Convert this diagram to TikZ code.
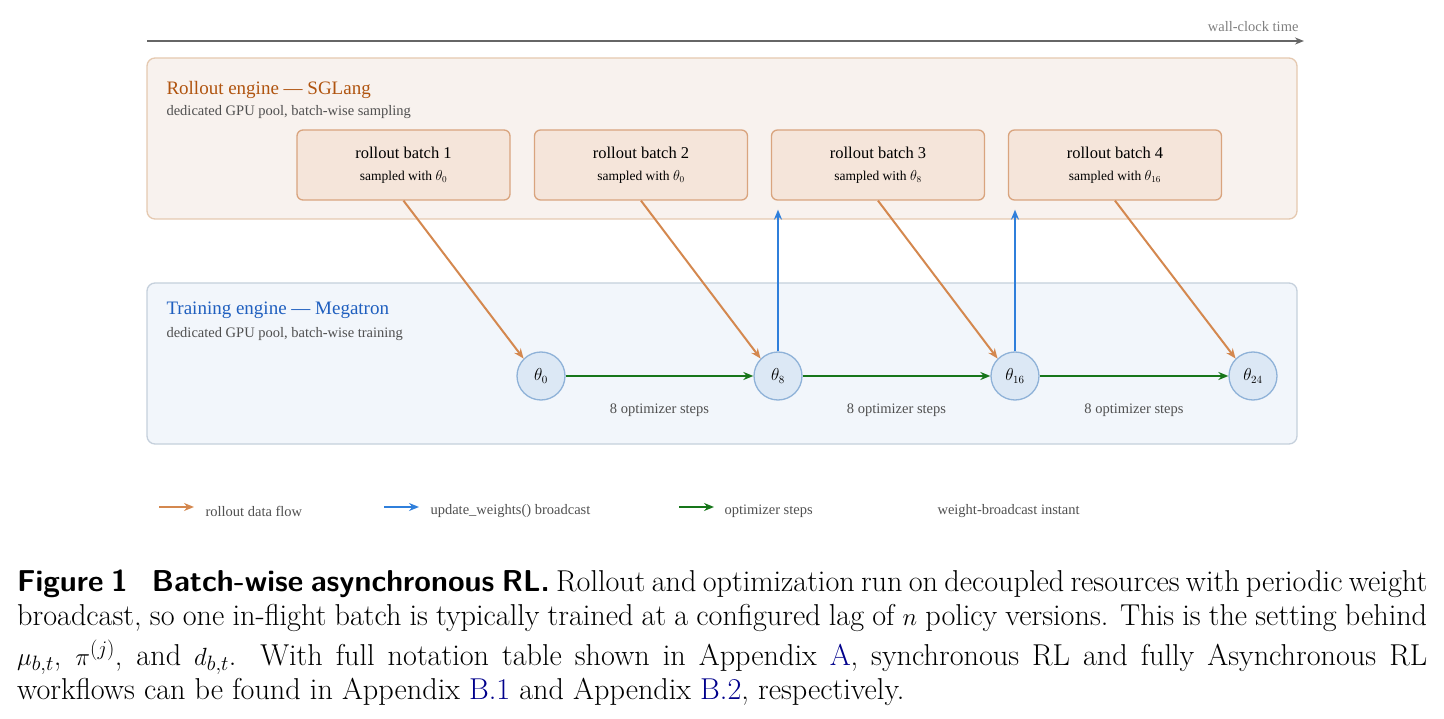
\documentclass[tikz,border=0pt]{standalone}
\usepackage{fontspec}
\setmainfont{Latin Modern Roman}
\newfontfamily\diag{Liberation Serif}
\usetikzlibrary{arrows.meta}
\definecolor{rfill}{HTML}{F8F2EE}\definecolor{rdraw}{HTML}{E5C9B0}
\definecolor{bfill}{HTML}{F5E5DA}\definecolor{bdraw}{HTML}{D9A47E}
\definecolor{tfill}{HTML}{F2F6FB}\definecolor{tdraw}{HTML}{C5D0DC}
\definecolor{cfill}{HTML}{DCE8F5}\definecolor{cdraw}{HTML}{8FB2D8}
\definecolor{orr}{HTML}{D4884F}\definecolor{blu}{HTML}{2F7FDB}\definecolor{grn}{HTML}{17761A}
\definecolor{rtitle}{HTML}{B0540F}\definecolor{ttitle}{HTML}{1F5FBF}\definecolor{gtxt}{HTML}{505050}
\definecolor{lnk}{HTML}{00008B}
\tikzset{
 panel/.style={rounded corners=8pt,line width=1.3pt},
 batch/.style={rounded corners=6pt,line width=1.3pt,fill=bfill,draw=bdraw,minimum width=213pt,minimum height=70pt,align=center,font=\diag\fontsize{16.5}{22}\selectfont},
 th/.style={circle,fill=cfill,draw=cdraw,line width=1.3pt,minimum size=48pt,inner sep=0pt,font=\fontsize{16}{18}\selectfont},
 arr/.style={line width=2pt,-{Stealth[length=10pt,width=8pt]}},
 lbl/.style={font=\diag\fontsize{14.5}{17}\selectfont,text=gtxt},
}
\begin{document}
\begin{tikzpicture}[x=1pt,y=-1pt]
\useasboundingbox (0,0) rectangle (1444,719);
\coordinate (t0) at (147,41); \coordinate (t1) at (1304,41);
\draw[gray!80!black,line width=1.5pt,-{Stealth[length=9pt,width=7pt]}] (t0) -- (t1);
\node[lbl,anchor=south east,text=gray] (wct) at (1302,35) {wall-clock time};
\draw[panel,fill=rfill,draw=rdraw] (147,58) rectangle (1297,219);
\node[anchor=base west,font=\diag\fontsize{19}{20}\selectfont,text=rtitle] (rt) at (163,95) {Rollout engine — SGLang};
\node[anchor=base west,lbl] (rs) at (163,116) {dedicated GPU pool, batch-wise sampling};
\node[batch] (b1) at (403.5,165) {rollout batch 1\\{\fontsize{13.5}{15}\selectfont sampled with $\theta_0$}};
\node[batch] (b2) at (641,165) {rollout batch 2\\{\fontsize{13.5}{15}\selectfont sampled with $\theta_0$}};
\node[batch] (b3) at (878,165) {rollout batch 3\\{\fontsize{13.5}{15}\selectfont sampled with $\theta_8$}};
\node[batch] (b4) at (1115,165) {rollout batch 4\\{\fontsize{13.5}{15}\selectfont sampled with $\theta_{16}$}};
\draw[panel,fill=tfill,draw=tdraw] (147,283) rectangle (1297,444);
\node[anchor=base west,font=\diag\fontsize{19}{20}\selectfont,text=ttitle] (tt) at (163,315) {Training engine — Megatron};
\node[anchor=base west,lbl] (ts) at (163,338) {dedicated GPU pool, batch-wise training};
\node[th] (c0) at (541,376) {$\theta_0$};
\node[th] (c8) at (778,376) {$\theta_8$};
\node[th] (c16) at (1015,376) {$\theta_{16}$};
\node[th] (c24) at (1253,376) {$\theta_{24}$};
\draw[arr,orr] (b1.south) -- (c0.135);
\draw[arr,orr] (b2.south) -- (c8.135);
\draw[arr,orr] (b3.south) -- (c16.135);
\draw[arr,orr] (b4.south) -- (c24.135);
\draw[arr,blu] (c8.north) -- ([yshift=-9pt]b3.south -| c8);
\draw[arr,blu] (c16.north) -- ([yshift=-9pt]b4.south -| c16);
\draw[arr,grn] (c0) -- (c8) node[lbl,midway,below=24pt] (s1) {8 optimizer steps};
\draw[arr,grn] (c8) -- (c16) node[lbl,midway,below=24pt] (s2) {8 optimizer steps};
\draw[arr,grn] (c16) -- (c24) node[lbl,midway,below=24pt] (s3) {8 optimizer steps};
\coordinate (l1a) at (159,507); \coordinate (l1b) at (194,507);
\draw[arr,orr] (l1a) -- (l1b); \node[lbl,anchor=west] (lt1) at (202,511) {rollout data flow};
\coordinate (l2a) at (384,507); \coordinate (l2b) at (419,507);
\draw[arr,blu] (l2a) -- (l2b); \node[lbl,anchor=west] (lt2) at (427,511) {update\_weights() broadcast};
\coordinate (l3a) at (679,507); \coordinate (l3b) at (714,507);
\draw[arr,grn] (l3a) -- (l3b); \node[lbl,anchor=west] (lt3) at (721,511) {optimizer steps};
\node[lbl,anchor=west] (lt4) at (934,511) {weight-broadcast instant};
\node[anchor=base west,text width=1410pt,align=justify,inner sep=0pt,font=\fontsize{30.2}{34}\selectfont] (cap) at (17,591)
{{\sffamily\bfseries Figure 1\hspace{0.8em}Batch-wise asynchronous RL.} Rollout and optimization run on decoupled resources with periodic weight\linebreak\vspace*{6pt}%
broadcast, so one in-flight batch is typically trained at a configured lag of $n$ policy versions. This is the setting behind\linebreak
$\mu_{b,t}$, $\pi^{(j)}$, and $d_{b,t}$. With full notation table shown in Appendix \textcolor{lnk}{A}, synchronous RL and fully Asynchronous RL\linebreak
workflows can be found in Appendix \textcolor{lnk}{B.1} and Appendix \textcolor{lnk}{B.2}, respectively.};
\end{tikzpicture}
\end{document}
